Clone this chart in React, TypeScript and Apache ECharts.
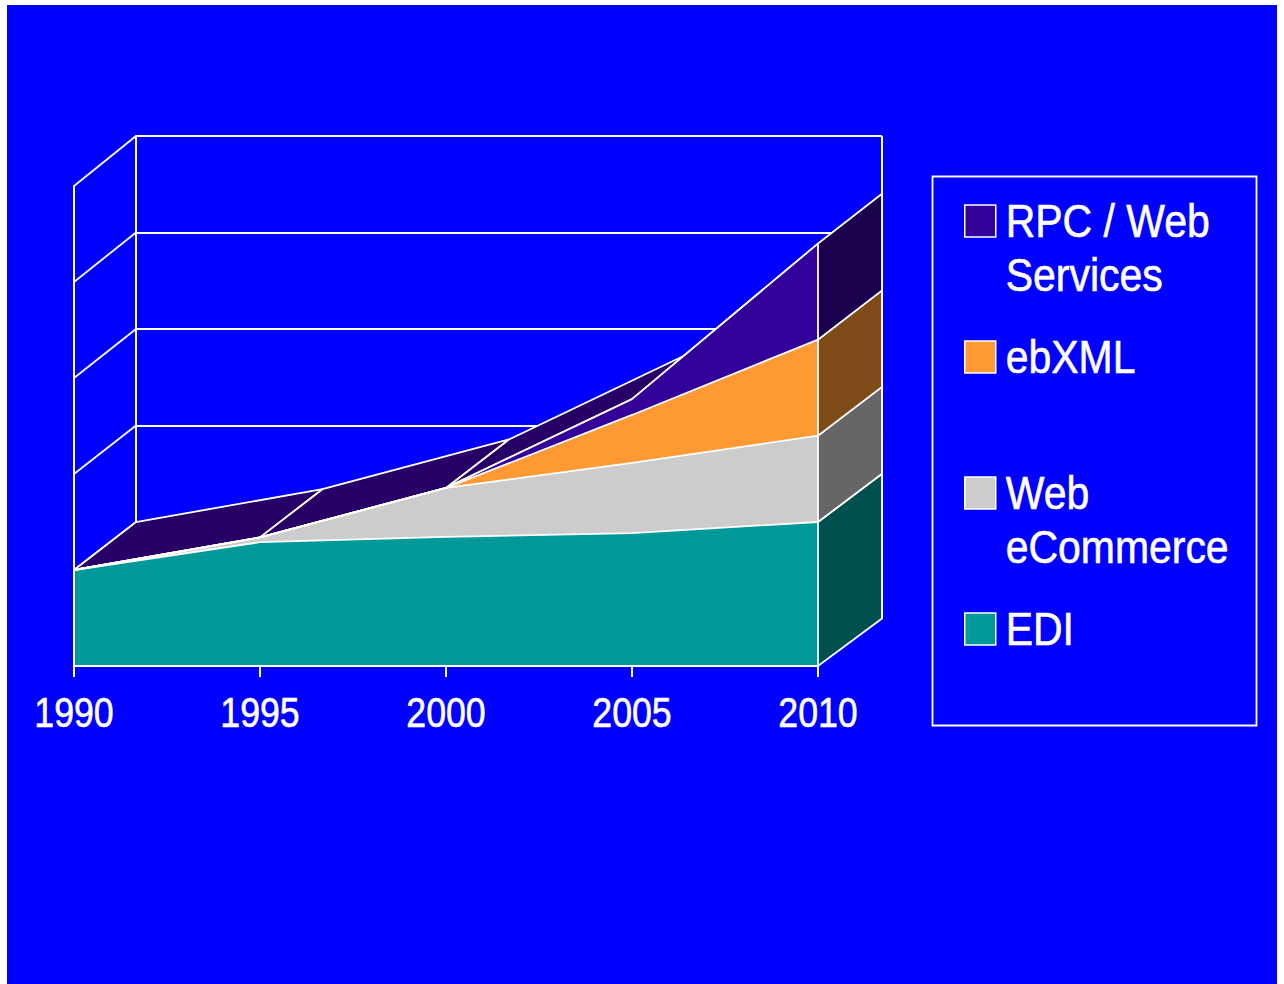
import React, { useEffect, useRef } from "react";
import * as echarts from "echarts";

const years = ["1990", "1995", "2000", "2005", "2010"];
const edi = [1.0, 1.29, 1.345, 1.385, 1.5];
const webEcommerce = [0, 0.05, 0.51, 0.73, 0.9];
const ebXml = [0, 0, 0, 0.5, 1.0];
const rpcWeb = [0, 0, 0, 0.165, 1.0];
const yTicks = [0, 1, 2, 3, 4, 5];

const seriesNames = ["EDI", "Web eCommerce", "ebXML", "RPC / Web Services"];
const legendOrder = ["RPC / Web Services", "ebXML", "Web eCommerce", "EDI"];
const legendLines: Record<string, string[]> = {
  "RPC / Web Services": ["RPC / Web", "Services"],
  ebXML: ["ebXML", " "],
  "Web eCommerce": ["Web", "eCommerce"],
  EDI: ["EDI", " "],
};
const frontColors = ["#009999", "#CCCCCC", "#FF9933", "#330099"];
const sideColors = ["#005050", "#666666", "#7F4C19", "#1C004D"];
const topColor = "#260066";
const WHITE = "#FFFFFF";
const FONT = "'Liberation Sans', sans-serif";
const AXIS_NARROW = 0.85;
const LEGEND_NARROW = 0.89;

const layers = [edi, webEcommerce, ebXml, rpcWeb];
const cumulative = (layer: number, i: number) => {
  let s = 0;
  for (let k = 0; k <= layer; k++) s += layers[k][i];
  return s;
};

// The reference's typeface is a narrow sans, which is not installed: squeeze the real text horizontally.
function narrowTexts(root: HTMLElement) {
  root.querySelectorAll("text").forEach((t) => {
    if (t.getAttribute("data-narrow")) return;
    const s = years.includes((t.textContent || "").trim()) ? AXIS_NARROW : LEGEND_NARROW;
    const x = parseFloat(t.getAttribute("x") || "0");
    const base = t.getAttribute("transform") || "";
    t.setAttribute("transform", `${base} translate(${x} 0) scale(${s} 1) translate(${-x} 0)`.trim());
    t.setAttribute("data-narrow", "1");
  });
}

export default function App() {
  const ref = useRef<HTMLDivElement>(null);
  useEffect(() => {
    const chart = echarts.init(ref.current!, undefined, { renderer: "svg" });
    const back = (i: number, v: number) =>
      chart.convertToPixel({ xAxisIndex: 1, yAxisIndex: 1 }, [i, v]) as number[];
    const lineStroke = { stroke: WHITE, lineWidth: 1.8 };

    chart.setOption({
      animation: false,
      backgroundColor: "transparent",
      grid: [
        { left: 74, top: 186, width: 744, height: 480 },
        { left: 136, top: 136, width: 746, height: 482.5 },
      ],
      xAxis: [
        {
          type: "category",
          gridIndex: 0,
          data: years,
          boundaryGap: false,
          z: 6,
          axisLine: { show: true, lineStyle: { color: WHITE, width: 2 } },
          axisTick: { show: true, length: 11, lineStyle: { color: WHITE, width: 2 } },
          axisLabel: {
            show: true,
            color: WHITE,
            fontSize: 42,
            fontFamily: FONT,
            textBorderColor: WHITE,
            textBorderWidth: 0.6,
            margin: 25,
            interval: 0,
            showMinLabel: true,
            showMaxLabel: true,
            hideOverlap: false,
          },
          splitLine: { show: false },
        },
        {
          type: "category",
          gridIndex: 1,
          data: years,
          boundaryGap: false,
          axisLine: { show: false },
          axisTick: { show: false },
          axisLabel: { show: false },
          splitLine: { show: false },
        },
      ],
      yAxis: [
        {
          type: "value",
          gridIndex: 0,
          min: 0,
          max: 5,
          interval: 1,
          z: 6,
          axisLine: { show: true, lineStyle: { color: WHITE, width: 2 } },
          axisTick: { show: false },
          axisLabel: { show: false },
          splitLine: { show: false },
        },
        {
          type: "value",
          gridIndex: 1,
          min: 0,
          max: 5,
          interval: 1,
          axisLine: { show: true, lineStyle: { color: WHITE, width: 2 } },
          axisTick: { show: false },
          axisLabel: { show: false },
          splitLine: { show: true, lineStyle: { color: WHITE, width: 2 } },
        },
      ],
      legend: {
        show: true,
        orient: "vertical",
        left: 964,
        top: 140,
        padding: 0,
        itemGap: -26,
        itemWidth: 31,
        itemHeight: 32,
        icon: "rect",
        selectedMode: false,
        data: legendOrder,
        itemStyle: { borderColor: WHITE, borderWidth: 1.5 },
        formatter: (name: string) => ["", ...legendLines[name]].join("\n"),
        textStyle: {
          color: WHITE,
          fontSize: 46,
          fontFamily: FONT,
          lineHeight: 54,
          textBorderColor: WHITE,
          textBorderWidth: 0.6,
          padding: [0, 0, 0, 5],
        },
      },
      graphic: [
        {
          type: "rect",
          z: 1,
          silent: true,
          shape: { x: 932.5, y: 176.5, width: 324, height: 549 },
          style: { fill: "none", stroke: WHITE, lineWidth: 1.8 },
        },
      ],
      series: [
        {
          type: "custom",
          name: "frame",
          xAxisIndex: 0,
          yAxisIndex: 0,
          z: 1,
          silent: true,
          clip: false,
          data: yTicks.map((v) => [0, v]),
          renderItem: (_p: any, api: any) => {
            const v = api.value(1);
            const f = api.coord([0, v]);
            const b = back(0, v);
            const children: any[] = [
              { type: "line", shape: { x1: f[0], y1: f[1], x2: b[0], y2: b[1] }, style: lineStroke },
            ];
            if (v === 0) {
              const r0 = back(years.length - 1, 0);
              const r1 = back(years.length - 1, 5);
              children.push({
                type: "line",
                shape: { x1: r0[0], y1: r0[1], x2: r1[0], y2: r1[1] },
                style: { stroke: WHITE, lineWidth: 2 },
              });
            }
            return { type: "group", children };
          },
        },
        {
          type: "custom",
          name: "top faces",
          xAxisIndex: 0,
          yAxisIndex: 0,
          z: 2,
          silent: true,
          clip: false,
          data: years.slice(0, -1).map((_, i) => [i, 0]),
          renderItem: (_p: any, api: any) => {
            const i = api.value(0);
            const a = cumulative(3, i);
            const c = cumulative(3, i + 1);
            return {
              type: "polygon",
              shape: { points: [api.coord([i, a]), back(i, a), back(i + 1, c), api.coord([i + 1, c])] },
              style: { fill: topColor, ...lineStroke },
            };
          },
        },
        ...seriesNames.map((name, k) => ({
          type: "line",
          name,
          stack: "total",
          xAxisIndex: 0,
          yAxisIndex: 0,
          z: 3,
          symbol: "none",
          showSymbol: false,
          silent: true,
          clip: false,
          data: layers[k],
          itemStyle: { color: frontColors[k] },
          lineStyle: { color: WHITE, width: 1.8 },
          areaStyle: { color: frontColors[k], opacity: 1 },
        })),
        {
          type: "custom",
          name: "side faces",
          xAxisIndex: 0,
          yAxisIndex: 0,
          z: 4,
          silent: true,
          clip: false,
          data: seriesNames.map((_, k) => [k, 0]),
          renderItem: (_p: any, api: any) => {
            const k = api.value(0);
            const i = years.length - 1;
            const lo = k === 0 ? 0 : cumulative(k - 1, i);
            const hi = cumulative(k, i);
            return {
              type: "polygon",
              shape: { points: [api.coord([i, lo]), api.coord([i, hi]), back(i, hi), back(i, lo)] },
              style: { fill: sideColors[k], ...lineStroke },
            };
          },
        },
      ],
    });
    narrowTexts(ref.current!);
    const onFinished = () => narrowTexts(ref.current!);
    chart.on("finished", onFinished);
    return () => chart.dispose();
  }, []);

  return (
    <div style={{ position: "fixed", left: 0, top: 0, width: 1284, height: 984, background: "#FFFFFF", overflow: "hidden" }}>
      <div style={{ position: "absolute", left: 7, top: 5, width: 1270, height: 979, background: "#0000FF" }} />
      <div ref={ref} style={{ position: "absolute", left: 0, top: 0, width: 1284, height: 984 }} />
    </div>
  );
}
